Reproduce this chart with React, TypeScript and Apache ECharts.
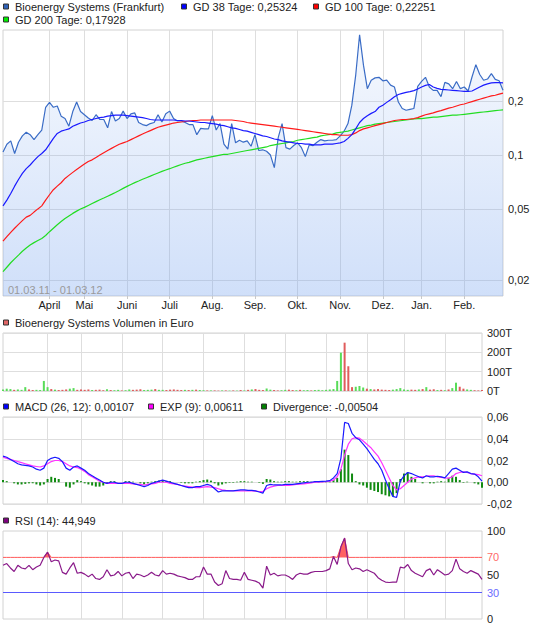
import { useEffect, useRef } from "react";
import * as echarts from "echarts";

const FONT = '"Liberation Sans", Arial, Helvetica, sans-serif';

// ---- categories: Frankfurt trading days 01.03.11 - 01.03.12, every 2nd day ----
const HOLIDAYS = ["2011-04-22", "2011-04-25", "2011-12-26"];
const SAMPLE_STEP = 2;
function tradingDays(): string[] {
  const out: string[] = [];
  const d = new Date(Date.UTC(2011, 2, 1));
  const end = Date.UTC(2012, 2, 1);
  while (d.getTime() <= end) {
    const wd = d.getUTCDay();
    const s = d.toISOString().slice(0, 10);
    if (wd !== 0 && wd !== 6 && !HOLIDAYS.includes(s)) out.push(s);
    d.setUTCDate(d.getUTCDate() + 1);
  }
  return out;
}
const DATES = tradingDays().filter((_, i) => i % SAMPLE_STEP === 0);
const MONTH_NAMES = ["Jan.", "Feb.", "März", "April", "Mai", "Juni", "Juli", "Aug.", "Sep.", "Okt.", "Nov.", "Dez."];

// ---- price panel (EUR) ----
const PRICE = [
  0.104, 0.115, 0.12, 0.102, 0.118, 0.128, 0.134, 0.13, 0.122, 0.13,
  0.138, 0.185, 0.197, 0.185, 0.188, 0.165, 0.16, 0.145, 0.175, 0.198,
  0.175, 0.168, 0.161, 0.156, 0.168, 0.158, 0.158, 0.142, 0.175, 0.155,
  0.16, 0.176, 0.16, 0.17, 0.172, 0.152, 0.148, 0.146, 0.15, 0.152,
  0.168, 0.153, 0.17, 0.176, 0.16, 0.155, 0.155, 0.152, 0.148, 0.148,
  0.13, 0.141, 0.14, 0.14, 0.166, 0.138, 0.15, 0.115, 0.108, 0.15,
  0.117, 0.121, 0.118, 0.12, 0.112, 0.13, 0.106, 0.107, 0.105, 0.1,
  0.085, 0.125, 0.15, 0.11, 0.108, 0.113, 0.117, 0.11, 0.098, 0.114,
  0.113, 0.118, 0.122, 0.12, 0.121, 0.121, 0.122, 0.128, 0.136, 0.15,
  0.19, 0.28, 0.47, 0.318, 0.235, 0.262, 0.27, 0.272, 0.26, 0.262,
  0.246, 0.24, 0.198, 0.182, 0.178, 0.18, 0.182, 0.242, 0.258, 0.272,
  0.24, 0.23, 0.23, 0.212, 0.255, 0.25, 0.235, 0.258, 0.235, 0.24,
  0.228, 0.273, 0.32, 0.282, 0.262, 0.266, 0.285, 0.265, 0.26, 0.23,
];
const GD38 = [
  0.052, 0.056, 0.061, 0.067, 0.073, 0.079, 0.084, 0.088, 0.093, 0.098,
  0.102, 0.107, 0.115, 0.124, 0.132, 0.136, 0.138, 0.14, 0.145, 0.148,
  0.151, 0.153, 0.156, 0.158, 0.16, 0.162, 0.163, 0.165, 0.166, 0.167,
  0.167, 0.167, 0.166, 0.165, 0.164, 0.163, 0.162, 0.16, 0.158, 0.157,
  0.157, 0.157, 0.157, 0.157, 0.157, 0.156, 0.156, 0.155, 0.155, 0.154,
  0.153, 0.152, 0.152, 0.151, 0.15, 0.149, 0.147, 0.146, 0.144, 0.142,
  0.141, 0.139, 0.137, 0.136, 0.134, 0.132, 0.13, 0.128, 0.127, 0.125,
  0.123, 0.122, 0.12, 0.119, 0.118, 0.117, 0.116, 0.116, 0.115, 0.115,
  0.114, 0.114, 0.114, 0.115, 0.115, 0.115, 0.116, 0.117, 0.119, 0.124,
  0.13, 0.14, 0.152, 0.16, 0.166, 0.171, 0.175, 0.185, 0.19, 0.197,
  0.204, 0.212, 0.218, 0.221, 0.224, 0.226, 0.229, 0.234, 0.24, 0.245,
  0.248, 0.24, 0.236, 0.233, 0.232, 0.231, 0.23, 0.229, 0.228, 0.227,
  0.227, 0.228, 0.234, 0.24, 0.246, 0.25, 0.253, 0.254, 0.254, 0.253,
];
const GD100 = [
  0.033, 0.035, 0.037, 0.039, 0.041, 0.043, 0.045, 0.046, 0.048, 0.05,
  0.052, 0.056, 0.06, 0.064, 0.067, 0.07, 0.074, 0.077, 0.08, 0.083,
  0.086, 0.089, 0.092, 0.094, 0.097, 0.1, 0.103, 0.106, 0.109, 0.112,
  0.115, 0.117, 0.119, 0.122, 0.125, 0.128, 0.131, 0.134, 0.137, 0.14,
  0.143, 0.145, 0.147, 0.149, 0.151, 0.152, 0.153, 0.154, 0.155, 0.156,
  0.156, 0.157, 0.157, 0.157, 0.157, 0.157, 0.157, 0.157, 0.157, 0.157,
  0.156, 0.155, 0.154, 0.152, 0.151, 0.15, 0.149, 0.148, 0.147, 0.146,
  0.145, 0.144, 0.143, 0.142, 0.141, 0.14, 0.139, 0.138, 0.137, 0.136,
  0.135, 0.134, 0.133, 0.132, 0.131, 0.13, 0.13, 0.129, 0.129, 0.129,
  0.13, 0.133, 0.137, 0.14, 0.142, 0.144, 0.146, 0.148, 0.15, 0.152,
  0.154, 0.156, 0.157, 0.158, 0.158, 0.159, 0.16, 0.162, 0.165, 0.168,
  0.17, 0.172, 0.175, 0.177, 0.18, 0.183, 0.185, 0.188, 0.191, 0.193,
  0.196, 0.199, 0.202, 0.205, 0.208, 0.211, 0.214, 0.216, 0.219, 0.222,
];
const GD200 = [
  0.0223, 0.0236, 0.025, 0.0263, 0.0276, 0.029, 0.0302, 0.0314, 0.0324, 0.0333,
  0.0342, 0.0355, 0.0373, 0.039, 0.0408, 0.0425, 0.0442, 0.0457, 0.0472, 0.0486,
  0.0499, 0.051, 0.0523, 0.0536, 0.0549, 0.0562, 0.0575, 0.0589, 0.0603, 0.0618,
  0.0634, 0.0651, 0.0668, 0.0685, 0.0701, 0.0716, 0.0732, 0.0747, 0.0762, 0.0778,
  0.0794, 0.081, 0.0825, 0.0839, 0.0855, 0.087, 0.0885, 0.09, 0.091, 0.0925,
  0.094, 0.095, 0.096, 0.097, 0.098, 0.099, 0.1, 0.101, 0.101, 0.102,
  0.103, 0.104, 0.105, 0.106, 0.107, 0.108, 0.109, 0.11, 0.111, 0.113,
  0.114, 0.115, 0.116, 0.117, 0.118, 0.119, 0.121, 0.122, 0.123, 0.124,
  0.125, 0.126, 0.128, 0.129, 0.13, 0.131, 0.133, 0.134, 0.135, 0.136,
  0.138, 0.14, 0.142, 0.144, 0.146, 0.147, 0.149, 0.15, 0.151, 0.152,
  0.153, 0.154, 0.155, 0.156, 0.157, 0.158, 0.159, 0.16, 0.16, 0.161,
  0.162, 0.163, 0.163, 0.164, 0.165, 0.166, 0.167, 0.167, 0.168, 0.169,
  0.17, 0.171, 0.172, 0.173, 0.174, 0.175, 0.176, 0.177, 0.178, 0.179,
];
const PRICE_TICKS = [0.02, 0.05, 0.1, 0.2];

// ---- volume panel (thousand EUR) ----
const VOLUME = [
  8, 12, 10, 6, 8, 6, 20, 8, 5, 6,
  5, 52, 20, 10, 7, 5, 6, 8, 12, 15,
  6, 8, 6, 8, 5, 6, 7, 4, 9, 5,
  4, 6, 3, 4, 8, 6, 7, 9, 5, 6,
  7, 10, 6, 6, 5, 7, 8, 6, 5, 6,
  5, 6, 7, 5, 4, 3, 3, 3, 2, 3,
  3, 2, 3, 2, 5, 3, 6, 8, 10, 6,
  5, 13, 7, 5, 3, 4, 6, 7, 5, 4,
  6, 4, 5, 3, 5, 6, 4, 6, 8, 10,
  52, 198, 250, 128, 20, 22, 26, 18, 12, 10,
  8, 10, 7, 6, 5, 7, 10, 15, 8, 6,
  7, 6, 8, 10, 20, 7, 9, 5, 6, 4,
  8, 15, 43, 22, 12, 8, 6, 4, 3, 5,
];
const VOLUME_DIRECTION =
  "uuuduuuddu" + "uuududdduu" + "ddddudddud" + "uuduuddduu" + "uduudddddu" +
  "duduududdu" + "dududududd" + "duudduuddu" + "duuduuuuuu" + "uuddduuudu" +
  "ddddduuuuu" + "ddududdudu" + "duudduuddd";

// ---- MACD panel ----
const MACD = [
  0.024, 0.023, 0.021, 0.019, 0.017, 0.016, 0.0155, 0.015, 0.014, 0.012,
  0.011, 0.013, 0.02, 0.022, 0.023, 0.022, 0.019, 0.013, 0.011, 0.014,
  0.015, 0.013, 0.011, 0.008, 0.006, 0.004, 0.002, 0.0, -0.001, 0.0,
  0.0, -0.001, -0.001, 0.0, 0.0, -0.001, -0.002, -0.003, -0.004, -0.003,
  -0.001, 0.0, 0.001, 0.002, 0.001, 0.0, -0.001, -0.002, -0.003, -0.004,
  -0.005, -0.005, -0.004, -0.004, -0.003, -0.002, -0.003, -0.006, -0.009, -0.008,
  -0.008, -0.008, -0.008, -0.0075, -0.007, -0.007, -0.0075, -0.0075, -0.008, -0.009,
  -0.01, -0.003, -0.002, -0.0025, -0.0025, -0.0025, -0.002, -0.002, -0.002, -0.0015,
  -0.001, -0.0005, 0.0, 0.0, 0.0005, 0.0006, 0.0008, 0.001, 0.0015, 0.004,
  0.008, 0.022, 0.055, 0.054, 0.045, 0.041, 0.039, 0.035, 0.031, 0.026,
  0.021, 0.017, 0.011, 0.002, -0.006, -0.013, -0.014, 0.001, 0.006, 0.009,
  0.008, 0.0065, 0.005, 0.004, 0.006, 0.005, 0.005, 0.0055, 0.005, 0.004,
  0.008, 0.012, 0.013, 0.011, 0.009, 0.0095, 0.008, 0.0075, 0.005, 0.001,
];
const EXP9 = [
  0.023, 0.022, 0.021, 0.02, 0.019, 0.018, 0.017, 0.016, 0.015, 0.0145,
  0.014, 0.015, 0.017, 0.019, 0.02, 0.02, 0.019, 0.017, 0.015, 0.014,
  0.0135, 0.012, 0.01, 0.007, 0.005, 0.003, 0.001, 0.0, -0.001, -0.001,
  -0.001, -0.001, -0.001, -0.001, -0.001, -0.0015, -0.002, -0.002, -0.0025, -0.002,
  -0.0015, -0.001, 0.0, 0.0, 0.0, -0.001, -0.0015, -0.002, -0.003, -0.0035,
  -0.004, -0.0045, -0.005, -0.005, -0.0045, -0.004, -0.0045, -0.005, -0.006, -0.007,
  -0.0075, -0.0078, -0.0078, -0.008, -0.008, -0.008, -0.008, -0.008, -0.0082, -0.0085,
  -0.0085, -0.006, -0.0045, -0.0035, -0.003, -0.003, -0.003, -0.003, -0.0025, -0.002,
  -0.0018, -0.0015, -0.001, -0.0005, 0.0, 0.0, 0.0003, 0.0006, 0.001, 0.002,
  0.005, 0.012, 0.025, 0.035, 0.04, 0.041, 0.0405, 0.038, 0.035, 0.032,
  0.028, 0.024, 0.018, 0.011, 0.004, -0.003, -0.007, -0.006, -0.003, 0.0,
  0.003, 0.004, 0.005, 0.005, 0.0055, 0.006, 0.006, 0.005, 0.0045, 0.004,
  0.0038, 0.005, 0.008, 0.009, 0.0095, 0.009, 0.008, 0.0075, 0.007, 0.006,
];
const DIVERGENCE = [
  0.002, 0.001, 0.0, -0.001, -0.002, -0.002, -0.0015, -0.001, -0.001, -0.002,
  -0.003, -0.002, 0.003, 0.005, 0.004, 0.003, 0.0, -0.004, -0.005, -0.002,
  0.002, 0.001, -0.001, -0.002, -0.003, -0.004, -0.004, -0.003, -0.001, 0.001,
  0.001, 0.0, 0.0, 0.001, 0.001, 0.0005, 0.0, -0.001, -0.002, -0.001,
  0.0005, 0.001, 0.0015, 0.002, 0.001, 0.001, 0.0, 0.0, -0.0005, -0.001,
  -0.001, -0.001, 0.0005, 0.001, 0.002, 0.0025, 0.0015, -0.001, -0.003, -0.002,
  -0.001, -0.0005, -0.0005, 0.0005, 0.001, 0.001, 0.0005, 0.0005, 0.0, -0.0005,
  -0.0015, 0.003, 0.0025, 0.001, 0.0005, 0.0005, 0.001, 0.001, 0.0005, 0.0005,
  0.001, 0.001, 0.001, 0.0005, 0.0005, 0.0006, 0.0006, 0.0005, 0.0008, 0.002,
  0.004, 0.012, 0.03, 0.025, 0.008, 0.001, -0.002, -0.003, -0.005, -0.007,
  -0.008, -0.009, -0.011, -0.012, -0.013, -0.013, -0.01, 0.003, 0.008, 0.009,
  0.005, 0.003, 0.0, -0.001, 0.0, -0.001, -0.001, 0.0005, 0.001, 0.0005,
  0.004, 0.006, 0.005, 0.002, -0.0005, 0.0005, 0.0, -0.001, -0.002, -0.005,
];

// ---- RSI panel ----
const RSI = [
  61, 63, 58, 54, 61, 58, 57, 61, 56, 59,
  61, 70, 76, 65, 67, 66, 53, 51, 58, 64,
  52, 53, 51, 48, 51, 46, 45, 48, 56, 49,
  50, 54, 49, 52, 53, 46, 51, 50, 48, 50,
  53, 50, 49, 55, 51, 52, 51, 49, 48, 47,
  45, 45, 48, 48, 59, 51, 51, 42, 38, 40,
  55, 46, 45, 45, 44, 53, 45, 44, 43, 41,
  35, 60, 50, 52, 49, 50, 50, 48, 45, 50,
  52, 51, 51, 53, 54, 54, 54, 55, 57, 71,
  62, 82, 92, 63, 56, 58, 57, 54, 56, 54,
  52, 47, 44, 42, 41.5, 42, 42, 59, 58, 62,
  55, 52, 50, 48, 55, 57, 50, 56, 53, 50,
  51, 55, 68, 57, 54, 52, 55, 53, 51, 45,
];
const RSI_HIGH = 70;
const RSI_LOW = 30;
const RSI_LABELS = [0, 30, 50, 70, 100];

// ---- styling ----
const SPLIT = "#dedede";
const BORDER = "#d2d2d2";
const TXT = "#222";
const UP = "#58dc58";
const DOWN = "#e05c5c";
const RSI_RED = "#ff5a5a";
const RSI_BLUE = "#5a5aff";

const monthStarts = new Set<number>();
DATES.forEach((d, i) => {
  if (i > 0 && d.slice(0, 7) !== DATES[i - 1].slice(0, 7)) monthStarts.add(i);
});
const isMonthStart = (i: number) => monthStarts.has(i);

function xAxis(gridIndex: number, labels: boolean) {
  return {
    type: "category",
    gridIndex,
    data: DATES,
    boundaryGap: false,
    axisLine: { show: false, onZero: false },
    axisTick: { show: labels, interval: isMonthStart, length: 3, lineStyle: { color: "#c8c8c8" } },
    axisLabel: {
      show: labels,
      interval: isMonthStart,
      formatter: (v: string) => MONTH_NAMES[parseInt(v.slice(5, 7), 10) - 1],
      color: TXT,
      fontSize: 11,
      fontFamily: FONT,
      margin: 3,
    },
    splitLine: { show: true, interval: isMonthStart, lineStyle: { color: SPLIT, width: 1 } },
  };
}

const labelStyle = { color: TXT, fontSize: 11, fontFamily: FONT, margin: 5 };

function legendItem(x: number, y: number, color: string, text: string) {
  return [
    {
      type: "rect",
      shape: { x: x + 0.5, y: y - 3, width: 5, height: 5 },
      style: { fill: color, stroke: "#333", lineWidth: 1 },
      z: 100,
    },
    {
      type: "text",
      x: x + 12,
      y,
      style: { text, fill: TXT, font: `11px ${FONT}`, verticalAlign: "middle", align: "left" },
      z: 100,
    },
  ];
}

function buildOption() {
  const fmtDec = (v: number) => String(parseFloat(v.toPrecision(3))).replace(".", ",");
  return {
    animation: false,
    backgroundColor: "#ffffff",
    grid: [
      { left: 3, top: 30, width: 500, height: 266, show: true, borderColor: BORDER, borderWidth: 1, backgroundColor: "transparent" },
      { left: 3, top: 333, width: 479, height: 58, show: true, borderColor: BORDER, borderWidth: 1, backgroundColor: "transparent" },
      { left: 3, top: 417, width: 479, height: 87, show: true, borderColor: BORDER, borderWidth: 1, backgroundColor: "transparent" },
      { left: 3, top: 531, width: 479, height: 88, show: true, borderColor: BORDER, borderWidth: 1, backgroundColor: "transparent" },
    ],
    xAxis: [xAxis(0, true), xAxis(1, false), xAxis(2, false), xAxis(3, false)],
    yAxis: [
      {
        type: "log",
        logBase: 10,
        gridIndex: 0,
        position: "right",
        min: 0.0163,
        max: 0.5,
        axisLine: { show: false },
        axisTick: { show: false, customValues: PRICE_TICKS },
        axisLabel: { ...labelStyle, customValues: PRICE_TICKS, formatter: (v: number) => fmtDec(v) },
        splitLine: { show: true, lineStyle: { color: SPLIT } },
      },
      {
        type: "value",
        gridIndex: 1,
        position: "right",
        min: 0,
        max: 300,
        interval: 100,
        axisLine: { show: false },
        axisTick: { show: false },
        axisLabel: { ...labelStyle, formatter: (v: number) => `${v}T` },
        splitLine: { show: true, lineStyle: { color: SPLIT } },
      },
      {
        type: "value",
        gridIndex: 2,
        position: "right",
        min: -0.02,
        max: 0.06,
        interval: 0.02,
        axisLine: { show: false },
        axisTick: { show: false },
        axisLabel: { ...labelStyle, formatter: (v: number) => v.toFixed(2).replace(".", ",") },
        splitLine: { show: true, lineStyle: { color: SPLIT } },
      },
      {
        type: "value",
        gridIndex: 3,
        position: "right",
        min: 0,
        max: 100,
        interval: 10,
        axisLine: { show: false },
        axisTick: { show: false },
        axisLabel: {
          ...labelStyle,
          formatter: (v: number) =>
            v === RSI_HIGH ? `{hi|${v}}` : v === RSI_LOW ? `{lo|${v}}` : RSI_LABELS.includes(v) ? String(v) : "",
          rich: {
            hi: { color: "#ff6a6a", fontSize: 11, fontFamily: FONT },
            lo: { color: "#6a6aff", fontSize: 11, fontFamily: FONT },
          },
        },
        splitLine: { show: false },
      },
    ],
    series: [
      {
        name: "Bioenergy Systems (Frankfurt)",
        type: "line",
        xAxisIndex: 0,
        yAxisIndex: 0,
        data: PRICE,
        symbol: "none",
        lineStyle: { color: "#3a6cc6", width: 1.2 },
        areaStyle: {
          origin: "start",
          color: new echarts.graphic.LinearGradient(0, 0, 0, 1, [
            { offset: 0, color: "rgba(121,165,239,0.10)" },
            { offset: 1, color: "rgba(121,165,239,0.50)" },
          ]),
        },
        z: 2,
      },
      { name: "GD 200", type: "line", xAxisIndex: 0, yAxisIndex: 0, data: GD200, symbol: "none", lineStyle: { color: "#22dd22", width: 1.2 }, z: 3 },
      { name: "GD 100", type: "line", xAxisIndex: 0, yAxisIndex: 0, data: GD100, symbol: "none", lineStyle: { color: "#ff1a1a", width: 1.2 }, z: 3 },
      { name: "GD 38", type: "line", xAxisIndex: 0, yAxisIndex: 0, data: GD38, symbol: "none", lineStyle: { color: "#1a1aff", width: 1.2 }, z: 4 },
      {
        name: "Volumen",
        type: "bar",
        xAxisIndex: 1,
        yAxisIndex: 1,
        barWidth: 2,
        data: VOLUME.map((v, i) => ({ value: v, itemStyle: { color: VOLUME_DIRECTION[i] === "u" ? UP : DOWN } })),
      },
      { name: "Divergence", type: "bar", xAxisIndex: 2, yAxisIndex: 2, barWidth: 2, data: DIVERGENCE, itemStyle: { color: "#108a10" } },
      { name: "MACD", type: "line", xAxisIndex: 2, yAxisIndex: 2, data: MACD, symbol: "none", lineStyle: { color: "#1a1aff", width: 1.2 }, z: 4 },
      { name: "EXP", type: "line", xAxisIndex: 2, yAxisIndex: 2, data: EXP9, symbol: "none", lineStyle: { color: "#ff33ff", width: 1.2 }, z: 3 },
      {
        name: "rsiOverbought",
        type: "line",
        xAxisIndex: 3,
        yAxisIndex: 3,
        data: RSI.map((v) => Math.max(v, RSI_HIGH)),
        symbol: "none",
        showSymbol: false,
        color: RSI_RED,
        lineStyle: { color: RSI_RED, width: 1 },
        areaStyle: { origin: RSI_HIGH, color: "#ff6262", opacity: 1 },
        silent: true,
        z: 3,
      },
      {
        name: "RSI",
        type: "line",
        xAxisIndex: 3,
        yAxisIndex: 3,
        data: RSI,
        symbol: "none",
        lineStyle: { color: "#8a1a8a", width: 1.2 },
        z: 4,
        markLine: {
          silent: true,
          symbol: "none",
          label: { show: false },
          lineStyle: { color: RSI_BLUE, width: 1, type: "solid", opacity: 1 },
          data: [{ yAxis: RSI_LOW }],
        },
      },
    ],
    graphic: [
      ...legendItem(3, 7, "#2f62b8", "Bioenergy Systems (Frankfurt)"),
      ...legendItem(181, 7, "#0000ff", "GD 38 Tage: 0,25324"),
      ...legendItem(313, 7, "#ff0000", "GD 100 Tage: 0,22251"),
      ...legendItem(3, 20, "#00ee00", "GD 200 Tage: 0,17928"),
      ...legendItem(3, 323, "#e06666", "Bioenergy Systems Volumen in Euro"),
      ...legendItem(3, 407, "#0000ff", "MACD (26, 12): 0,00107"),
      ...legendItem(148, 407, "#ff00ff", "EXP (9): 0,00611"),
      ...legendItem(261, 407, "#008000", "Divergence: -0,00504"),
      ...legendItem(3, 521, "#800080", "RSI (14): 44,949"),
      {
        type: "text",
        x: 8,
        y: 290,
        style: { text: "01.03.11 - 01.03.12", fill: "#9a9a9a", font: `11px ${FONT}`, verticalAlign: "middle", align: "left" },
        z: 100,
      },
    ],
  };
}

export default function App() {
  const ref = useRef<HTMLDivElement>(null);
  useEffect(() => {
    if (!ref.current) return;
    const chart = echarts.init(ref.current, null, { renderer: "svg", width: 545, height: 629 });
    chart.setOption(buildOption() as any);
    return () => chart.dispose();
  }, []);
  return (
    <div
      ref={ref}
      style={{ position: "fixed", left: 0, top: 0, width: 545, height: 629, background: "#fff" }}
    />
  );
}
